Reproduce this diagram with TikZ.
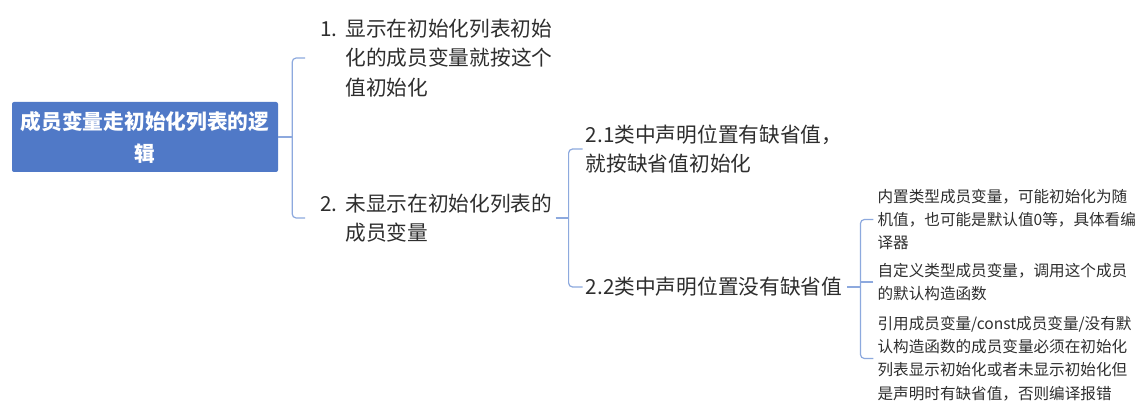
\documentclass[tikz,border=0pt]{standalone}
\usepackage{fontspec}
\setmainfont{Noto Sans CJK SC}
\usetikzlibrary{positioning}

\definecolor{rootblue}{HTML}{5079C7}
\definecolor{linkblue}{HTML}{8DA9DE}
\definecolor{textgray}{HTML}{2E2E2E}

\newcommand{\itemno}[1]{\makebox[25pt][l]{#1}}
\newcommand{\itemgap}{\hspace*{25pt}}

\begin{document}
\begin{tikzpicture}[
    x=1pt, y=1pt,
    root/.style={
        rectangle, rounded corners=2pt,
        minimum width=266pt, minimum height=70pt,
        inner sep=0pt, align=center,
        fill=rootblue, text=white,
        font=\fontsize{20.7}{32}\selectfont\bfseries
    },
    topic/.style={
        inner sep=0pt, align=left, text=textgray,
        font=\fontsize{20.7}{29.5}\selectfont
    },
    leaf/.style={
        inner sep=0pt, align=left, text=textgray,
        font=\fontsize{15.6}{23.4}\selectfont
    },
    link/.style={
        draw=linkblue, line width=1.2pt, rounded corners=4pt
    },
]

% canvas
\fill[white] (0,0) rectangle (1148,-419);
\useasboundingbox (0,0) rectangle (1148,-419);

% ROOT
\node[root] (root) at (145,-137) {成员变量走初始化列表的逻\\辑};

% LEVEL 1
\node[topic, right=42pt of root, yshift=79pt] (c1)
    {\itemno{1.}显示在初始化列表初始\\\itemgap 化的成员变量就按这个\\\itemgap 值初始化};
\node[topic, right=42pt of root, yshift=-81pt] (c2)
    {\itemno{2.}未显示在初始化列表的\\\itemgap 成员变量};

% LEVEL 2
\node[topic, right=33pt of c2, yshift=69pt] (c21)
    {2.1类中声明位置有缺省值，\\就按缺省值初始化};
\node[topic, right=33pt of c2, yshift=-69pt] (c22)
    {2.2类中声明位置没有缺省值};

% LEVEL 3
\node[leaf, right=35pt of c22, yshift=67.5pt] (l1)
    {内置类型成员变量，可能初始化为随\\机值，也可能是默认值0等，具体看编\\译器};
\node[leaf, right=35pt of c22, yshift=5pt] (l2)
    {自定义类型成员变量，调用这个成员\\的默认构造函数};
\node[leaf, right=35pt of c22, yshift=-71.5pt] (l3)
    {引用成员变量/const成员变量/没有默\\认构造函数的成员变量必须在初始化\\列表显示初始化或者未显示初始化但\\是声明时有缺省值，否则编译报错};

% connectors
\coordinate (j1) at ([xshift=14pt]root.east);
\draw[link] (root.east) -- (j1);
\draw[link] ([xshift=-15pt]c1.west) -| (j1) |- ([xshift=-15pt]c2.west);

\coordinate (j2) at ([xshift=16pt]c2.east);
\draw[link] ([xshift=3pt]c2.east) -- (j2);
\draw[link] ([xshift=-3pt]c21.west) -| (j2) |- ([xshift=-3pt]c22.west);

\coordinate (j3) at ([xshift=18pt]c22.east);
\draw[link] ([xshift=5pt]c22.east) -- (j3);
\draw[link] ([xshift=-4pt]l1.west) -| (j3) |- ([xshift=-4pt]l3.west);
\draw[link] ([xshift=-4pt]l2.west) -- (l2.west -| j3);

\end{tikzpicture}
\end{document}
